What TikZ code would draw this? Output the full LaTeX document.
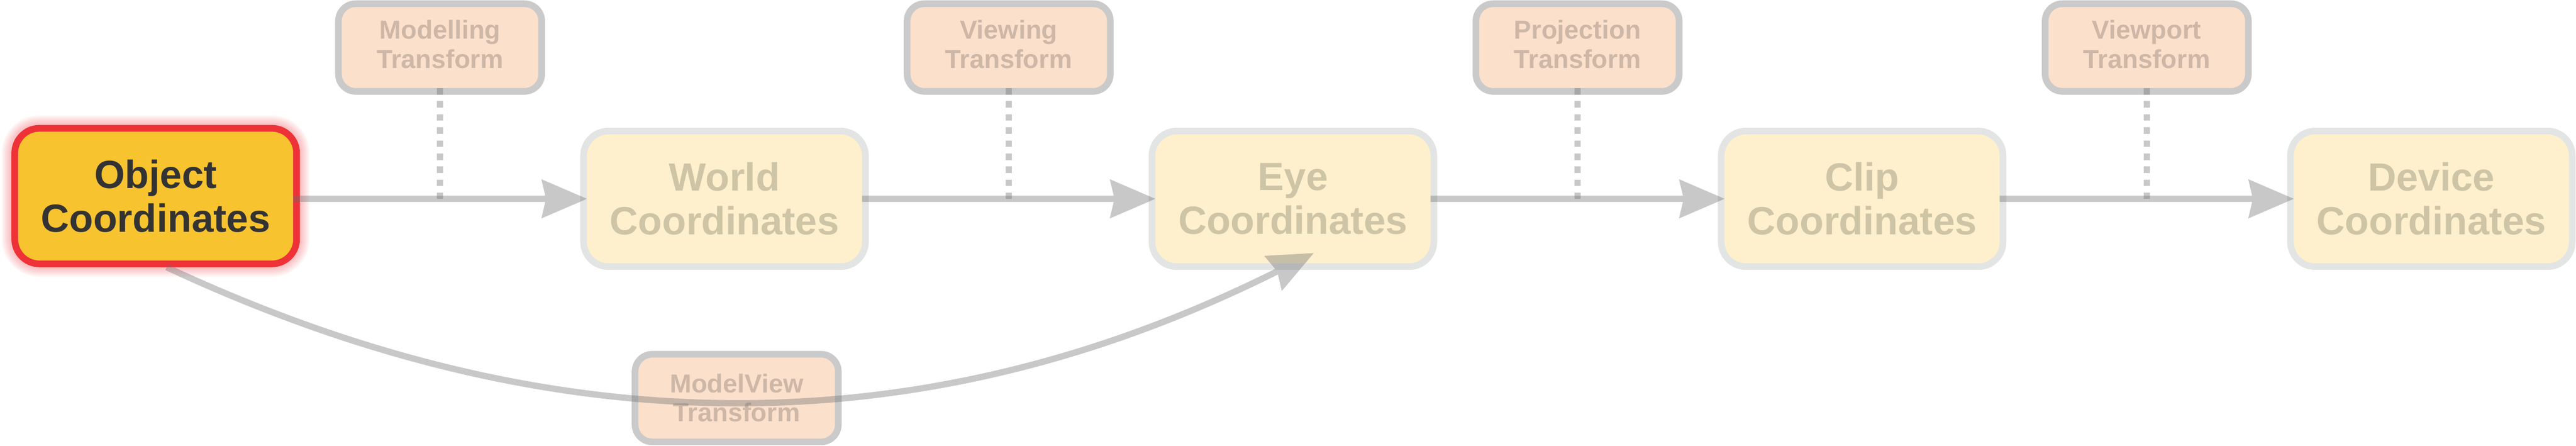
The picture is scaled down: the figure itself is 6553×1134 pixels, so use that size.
\documentclass[tikz,border=0pt]{standalone}
\usepackage{fontspec}
\setmainfont{Liberation Sans}
\usetikzlibrary{arrows.meta,backgrounds}
\definecolor{objfill}{RGB}{247,195,46}
\definecolor{objborder}{RGB}{238,50,56}
\definecolor{objtext}{RGB}{51,51,51}
\definecolor{cfill}{RGB}{254,240,204}
\definecolor{cborder}{RGB}{227,229,228}
\definecolor{ctext}{RGB}{206,196,166}
\definecolor{tfill}{RGB}{251,224,204}
\definecolor{tborder}{RGB}{202,202,202}
\definecolor{ttext}{RGB}{205,183,166}
\definecolor{linkgray}{RGB}{111,111,111}
\begin{document}
\begin{tikzpicture}[x=0.1pt,y=-0.1pt,
  coordbox/.style={draw=cborder, fill=cfill, line width=1.7pt, rounded corners=6.3pt,
    minimum width=71.7pt, minimum height=34.5pt, inner sep=0pt, outer sep=0pt,
    align=center, text=ctext, font=\fontsize{10pt}{11.1pt}\selectfont\bfseries},
  objbox/.style={coordbox, draw=objborder, fill=objfill, text=objtext},
  xfbox/.style={draw=tborder, fill=tfill, line width=1.7pt, rounded corners=4.4pt,
    minimum width=51.7pt, minimum height=22.3pt, inner sep=0pt, outer sep=0pt},
  xftext/.style={align=center, text=ttext, inner sep=0pt,
    font=\fontsize{6.6pt}{7.4pt}\selectfont\bfseries},
  link/.style={draw=linkgray, line width=1.6pt},
  flow/.style={link, -{Stealth[length=11.6pt, width=10pt, inset=1.2pt, line width=0pt]}},
  tie/.style={link, draw opacity=0.38, dash pattern=on 1.665pt off 1.665pt},
  glow/.style={draw=objborder, draw opacity=0.035, rounded corners=6.3pt}
]
\useasboundingbox (0,0) rectangle (6553,1134);

% main coordinate boxes
\node[objbox] (obj) at (396,499) {Object\\Coordinates};
\node[coordbox] (world) at (1843,506) {World\\Coordinates};
\node[coordbox] (eye) at (3289,506) {Eye\\Coordinates};
\node[coordbox] (clip) at (4737,506) {Clip\\Coordinates};
\node[coordbox] (dev) at (6185,506) {Device\\Coordinates};

% glow round the highlighted box
\begin{pgfonlayer}{background}
\foreach \w in {2.2,2.7,3.2,3.7,4.2,4.7,5.2,5.7,6.2,6.7}
  \draw[glow, line width=\w pt] (obj.north west) rectangle (obj.south east);
\end{pgfonlayer}

% transform boxes
\node[xfbox] (mt) at (1119.5,121) {};
\node[xftext] (mtl) at (1119.5,113) {Modelling\\Transform};
\node[xfbox] (vt) at (2566,121) {};
\node[xftext] (vtl) at (2566,113) {Viewing\\Transform};
\node[xfbox] (pt) at (4013,121) {};
\node[xftext] (ptl) at (4013,113) {Projection\\Transform};
\node[xfbox] (vpt) at (5461,121) {};
\node[xftext] (vptl) at (5461,113) {Viewport\\Transform};
\node[xfbox] (mvt) at (1874,1013) {};
\node[xftext] (mvtl) at (1874,1012.5) {ModelView\\Transform};

% dotted ties from transforms to the flow line
\draw[tie] ([yshift=0.85pt]mt.south) -- (mt.south |- world.west);
\draw[tie] ([yshift=0.85pt]vt.south) -- (vt.south |- world.west);
\draw[tie] ([yshift=0.85pt]pt.south) -- (pt.south |- world.west);
\draw[tie] ([yshift=0.85pt]vpt.south) -- (vpt.south |- world.west);

% main flow arrows
\coordinate (objout) at (obj.east |- world.west);
\begin{scope}[transparency group, opacity=0.38]
\draw[flow] ([xshift=-0.85pt]objout) -- ([xshift=0.85pt]world.west);
\end{scope}
\begin{scope}[transparency group, opacity=0.38]
\draw[flow] ([xshift=-0.85pt]world.east) -- ([xshift=0.85pt]eye.west);
\end{scope}
\begin{scope}[transparency group, opacity=0.38]
\draw[flow] ([xshift=-0.85pt]eye.east) -- ([xshift=0.85pt]clip.west);
\end{scope}
\begin{scope}[transparency group, opacity=0.38]
\draw[flow] ([xshift=-0.85pt]clip.east) -- ([xshift=0.85pt]dev.west);
\end{scope}

% ModelView shortcut
\begin{scope}[transparency group, opacity=0.38]
\draw[flow] ([xshift=2.8pt,yshift=-0.85pt]obj.south) .. controls (1366,1120) and (2312,1159) .. ([xshift=5.3pt,yshift=3.45pt]eye.south);
\end{scope}
\end{tikzpicture}
\end{document}
